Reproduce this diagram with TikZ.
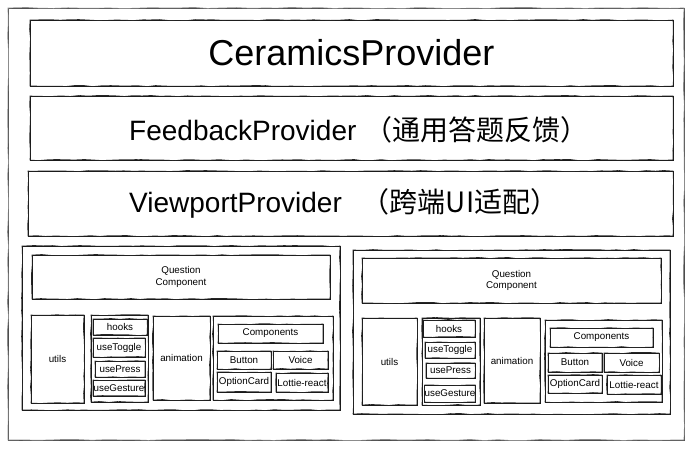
\documentclass[tikz,border=0pt]{standalone}
\usepackage{fontspec}
\setmainfont{Liberation Sans}
\newfontfamily\cjk{Noto Sans CJK SC}
\usetikzlibrary{decorations.pathmorphing}
\tikzset{
  sk/.style={draw=black!90, line width=0.7pt, inner sep=0pt,
    postaction={draw=black!85, line width=0.6pt, decorate,
      decoration={random steps, segment length=9pt, amplitude=0.6pt}}},
  frame/.style={draw=black!70, line width=1pt, inner sep=0pt,
    postaction={draw=black!45, line width=0.7pt, decorate,
      decoration={random steps, segment length=14pt, amplitude=0.6pt}}},
  small/.style={font=\fontsize{9.8}{11.8}\selectfont, align=center},
  big/.style={font=\fontsize{36}{40}\selectfont},
  mid/.style={font=\fontsize{28}{32}\selectfont, inner sep=0pt, anchor=west}
}
\newcommand\bx[7][sk]{%
  \node[#1, minimum width={(#5-#3)*1pt}, minimum height={(#6-#4)*1pt}]
    (#2) at ({(#3+#5)/2},{(#4+#6)/2}) {#7};}
\begin{document}
\begin{tikzpicture}[x=1pt,y=-1pt]
\pgfmathsetseed{7}
\useasboundingbox[fill=white] (0,0) rectangle (694,450);
\bx[frame]{outer}{8}{8}{684}{440}{}
% providers
\bx[sk,big]{cer}{30}{20}{673}{86}{CeramicsProvider}
\bx{fb}{30}{96}{673}{160}{}
\bx{vp}{28}{171}{673}{236}{}
\node[mid] (fbt) at (129,130) {FeedbackProvider {\cjk （通用答题反馈）}};
\node[mid] (vpt) at (129,203) {ViewportProvider\hspace{20pt}{\cjk （跨端UI适配）}};
% panel 1
\bx{p1}{22}{246}{340}{410}{}
\bx[sk,small]{q1}{32}{255}{330}{299}{Question\\Component}
\bx[sk,small]{utils1}{31}{315}{84}{403}{utils}
\bx{hk1}{91}{315}{148}{402}{}
\bx[sk,small]{hooks1}{93}{319}{147}{335}{hooks}
\bx[sk,small]{toggle1}{93}{338}{145}{357}{useToggle}
\bx[sk,small]{press1}{95}{361}{145}{377}{usePress}
\bx[sk,small]{gesture1}{93}{380}{145}{396}{useGesture}
\bx[sk,small]{anim1}{153}{316}{210}{400}{animation}
\bx{cc1}{213}{316}{333}{400}{}
\bx[sk,small]{comp1}{218}{324}{323}{343}{Components}
\bx[sk,small]{btn1}{217}{351}{271}{369}{Button}
\bx[sk,small]{voice1}{273}{351}{328}{369}{Voice}
\bx[sk,small]{opt1}{217}{372}{271}{392}{OptionCard}
\bx[sk,small]{lottie1}{276}{373}{328}{392}{Lottie-react}
% panel 2
\bx{p2}{353}{250}{670}{414}{}
\bx[sk,small]{q2}{362}{258}{661}{303}{Question\\Component}
\bx[sk,small]{utils2}{362}{318}{417}{405}{utils}
\bx{hk2}{422}{318}{480}{405}{}
\bx[sk,small]{hooks2}{423}{320}{475}{337}{hooks}
\bx[sk,small]{toggle2}{425}{342}{475}{358}{useToggle}
\bx[sk,small]{press2}{426}{363}{475}{378}{usePress}
\bx[sk,small]{gesture2}{425}{385}{475}{402}{useGesture}
\bx[sk,small]{anim2}{484}{318}{540}{403}{animation}
\bx{cc2}{545}{320}{662}{402}{}
\bx[sk,small]{comp2}{550}{328}{653}{347}{Components}
\bx[sk,small]{btn2}{548}{353}{602}{372}{Button}
\bx[sk,small]{voice2}{604}{353}{659}{372}{Voice}
\bx[sk,small]{opt2}{548}{375}{602}{393}{OptionCard}
\bx[sk,small]{lottie2}{607}{375}{661}{394}{Lottie-react}
\end{tikzpicture}
\end{document}
